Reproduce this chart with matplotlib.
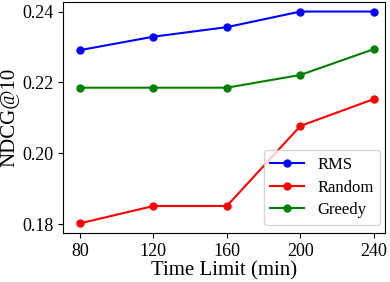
import matplotlib
matplotlib.use("Agg")
import matplotlib.pyplot as plt

plt.rcParams['font.family'] = ['Liberation Serif', 'DejaVu Serif']

# Time limits (minutes) and NDCG@10 per method
time_limits = [80, 120, 160, 200, 240]
rms = [0.2291, 0.2329, 0.2356, 0.2400, 0.2400]
random_sel = [0.1802, 0.1851, 0.1851, 0.2077, 0.2153]
greedy = [0.2185, 0.2185, 0.2185, 0.2221, 0.2294]

fig = plt.figure(figsize=(3.9, 2.82), dpi=100)
ax = fig.add_axes([0.1615, 0.174, 0.8255, 0.819])

ax.plot(time_limits, rms, color='blue', marker='o', markersize=5, linewidth=1.5, label='RMS')
ax.plot(time_limits, random_sel, color='red', marker='o', markersize=5, linewidth=1.5, label='Random')
ax.plot(time_limits, greedy, color='green', marker='o', markersize=5, linewidth=1.5, label='Greedy')

ax.set_xticks(time_limits)
ax.set_yticks([0.18, 0.20, 0.22, 0.24])
ax.set_xlim(70.8, 246)
ax.set_ylim(0.1775, 0.2427)
ax.tick_params(labelsize=13)
ax.set_xlabel('Time Limit (min)', fontsize=15, labelpad=1)
ax.set_ylabel('NDCG@10', fontsize=15, labelpad=2)
ax.legend(loc='lower right', fontsize=12, bbox_to_anchor=(0.985, 0.035),
          borderaxespad=0, labelspacing=0.4)

fig.savefig('out.png', dpi=100)
